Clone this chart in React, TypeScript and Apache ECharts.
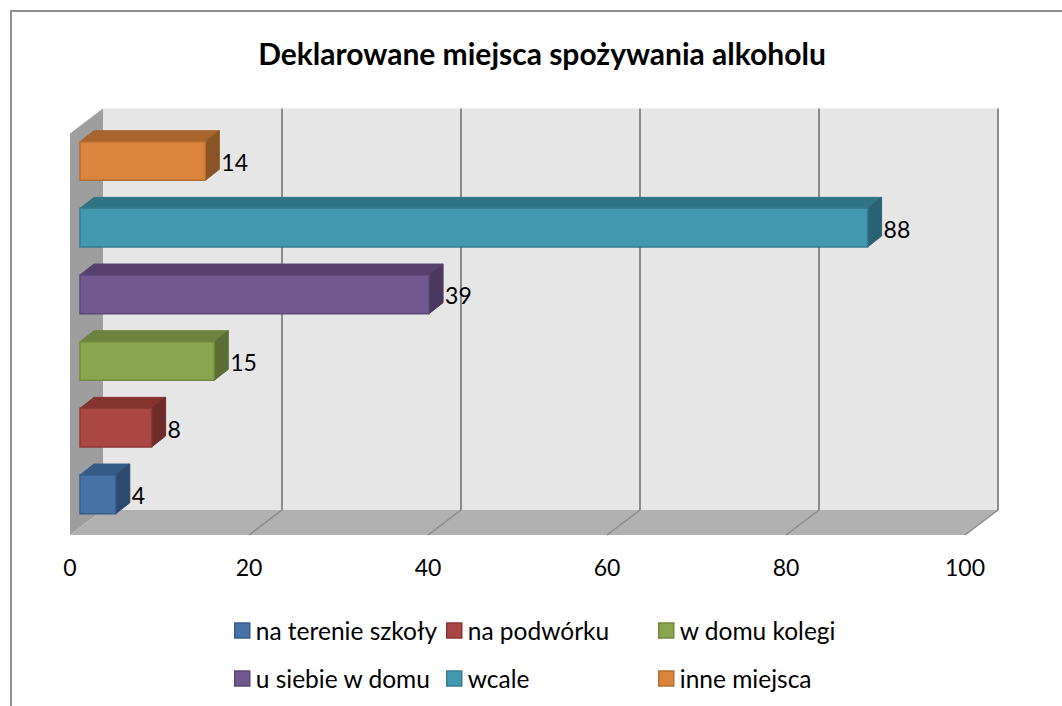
import React, { useEffect, useRef } from "react";
import * as echarts from "echarts";

const TITLE = "Deklarowane miejsca spożywania alkoholu";
const CATEGORIES = ["na terenie szkoły", "na podwórku", "w domu kolegi", "u siebie w domu", "wcale", "inne miejsca"];
const VALUES = [4, 8, 15, 39, 88, 14];
const TICKS = [0, 20, 40, 60, 80, 100];
const FRONT = ["#4672a8", "#aa4643", "#89a54e", "#71588f", "#4198af", "#db843d"];
const EDGE = ["#385d8a", "#8c3836", "#71893f", "#5c4776", "#357d91", "#b66d31"];
const TOP = ["#355a86", "#84332f", "#6d843f", "#55406e", "#2f7385", "#a7642d"];
const SIDE = ["#2c4a70", "#6f2b29", "#5a6e34", "#4a3861", "#2b6273", "#8a5427"];
const LEGEND_X = [234, 446, 658];
const LEGEND_Y = [618, 666];

const FONT = "Lato";
const DEPTH = [33, -25];
const BAR_OFF = [10, -7.3];
const BAR_DEPTH = [14, -11];
const WALL_EXTRA = 1.5;

function poly(points: number[][], fill: any, stroke?: string, lineWidth = 1) {
  return {
    type: "polygon",
    shape: { points },
    style: { fill, stroke: stroke || "none", lineWidth },
    silent: true,
  };
}

function seg(a: number[], b: number[], stroke: string, lineWidth: number) {
  return {
    type: "line",
    shape: { x1: a[0], y1: a[1], x2: b[0], y2: b[1] },
    style: { stroke, lineWidth },
    silent: true,
  };
}

function renderWall(params: any, api: any) {
  const cs = params.coordSys;
  const v = api.value(0);
  const xv = api.coord([v, CATEGORIES[0]])[0];
  const yB = cs.y + cs.height;
  const yT = cs.y - WALL_EXTRA;
  const [dx, dy] = DEPTH;
  const children: any[] = [];
  if (params.dataIndex === 0) {
    const xL = cs.x;
    const xR = cs.x + cs.width;
    children.push(
      poly([[xL + dx, yT + dy], [xR + dx, yT + dy], [xR + dx, yB + dy], [xL + dx, yB + dy]], "#e6e6e6"),
      poly([[xL, yT], [xL + dx, yT + dy], [xL + dx, yB + dy], [xL, yB]], "#9e9e9e"),
      poly([[xL, yB], [xL + dx, yB + dy], [xR + dx, yB + dy], [xR, yB]], "#b1b1b1")
    );
    return { type: "group", children };
  }
  children.push(
    seg([xv + dx, yT + dy], [xv + dx, yB + dy], "#8b8b8b", 2),
    seg([xv + dx, yB + dy], [xv, yB], "#8b8b8b", 1.5)
  );
  return { type: "group", children };
}

function makeBar(idx: number) {
  return function renderBar(params: any, api: any) {
    const v = api.value(0);
    const c = api.coord([v, CATEGORIES[idx]]);
    const o = api.coord([0, CATEGORIES[idx]]);
    const h = api.size([0, 1])[1] * 0.58;
    const x0 = o[0] + BAR_OFF[0];
    const x1 = c[0] + BAR_OFF[0];
    const yc = c[1] + BAR_OFF[1];
    const yT = yc - h / 2;
    const yB = yc + h / 2;
    const [dx, dy] = BAR_DEPTH;
    return {
      type: "group",
      children: [
        poly([[x0, yT], [x0 + dx, yT + dy], [x1 + dx, yT + dy], [x1, yT]], TOP[idx], TOP[idx], 1),
        poly([[x1, yT], [x1 + dx, yT + dy], [x1 + dx, yB + dy], [x1, yB]], SIDE[idx], SIDE[idx], 1),
        poly([[x0, yT], [x1, yT], [x1, yB], [x0, yB]], FRONT[idx], EDGE[idx], 1.5),
        {
          type: "text",
          silent: true,
          style: {
            text: String(v),
            x: x1 + dx + 2,
            y: yc + 1,
            fill: "#000",
            font: `23px ${FONT}`,
            align: "left",
            verticalAlign: "middle",
          },
        },
      ],
    };
  };
}

export default function App() {
  const ref = useRef<HTMLDivElement>(null);
  useEffect(() => {
    const chart = echarts.init(ref.current!, undefined, { renderer: "svg" });
    const option: any = {
      animation: false,
      backgroundColor: "#fff",
      title: {
        text: TITLE,
        left: 537,
        top: 33,
        textAlign: "center",
        textStyle: { fontFamily: FONT, fontWeight: "bold", fontSize: 30, color: "#000" },
      },
      legend: CATEGORIES.map((name, i) => ({
        data: [{ name, icon: "rect", itemStyle: { color: FRONT[i], borderColor: EDGE[i], borderWidth: 1.5 } }],
        left: LEGEND_X[i % 3],
        top: LEGEND_Y[Math.floor(i / 3)],
        itemWidth: 15,
        itemHeight: 15,
        selectedMode: false,
        padding: 0,
        textStyle: { fontFamily: FONT, fontSize: 24.5, color: "#000", padding: [0, 0, 0, 1] },
      })),
      grid: { left: 70, right: 97, top: 135, bottom: 171 },
      xAxis: {
        type: "value",
        min: 0,
        max: 100,
        interval: 20,
        axisLine: { show: false },
        axisTick: { show: false },
        splitLine: { show: false },
        axisLabel: {
          margin: 20,
          fontFamily: FONT,
          fontSize: 23,
          color: "#000",
          formatter: (v: number) => (TICKS.includes(v) ? String(v) : ""),
        },
      },
      yAxis: { type: "category", data: CATEGORIES, show: false },
      series: [
        {
          type: "custom",
          name: "tlo",
          silent: true,
          renderItem: renderWall,
          data: TICKS.map((t) => [t]),
          encode: { x: 0 },
        },
        ...CATEGORIES.map((name, i) => ({
          type: "custom",
          name,
          silent: true,
          itemStyle: { color: FRONT[i] },
          renderItem: makeBar(i),
          data: [[VALUES[i], name]],
          encode: { x: 0, y: 1 },
        })),
      ],
      graphic: [
        { type: "line", silent: true, shape: { x1: 10, y1: 11, x2: 1062, y2: 11 }, style: { stroke: "#8f8f8f", lineWidth: 2 } },
        { type: "line", silent: true, shape: { x1: 11, y1: 10, x2: 11, y2: 706 }, style: { stroke: "#8f8f8f", lineWidth: 2 } },
      ],
    };
    chart.setOption(option);
    return () => chart.dispose();
  }, []);
  return <div ref={ref} style={{ position: "fixed", left: 0, top: 0, width: 1062, height: 706 }} />;
}
